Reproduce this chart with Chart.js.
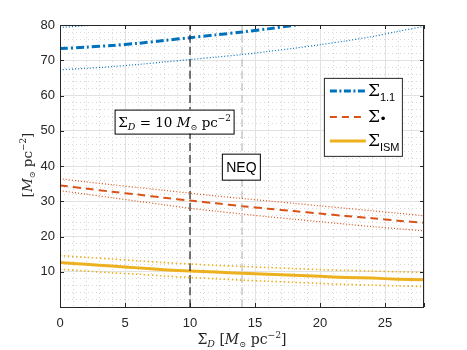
<!DOCTYPE html>
<html>
<head>
<meta charset="utf-8">
<script src="https://cdn.jsdelivr.net/npm/chart.js@4.4.0/dist/chart.umd.min.js"></script>
<style>
    body { margin: 0; background: #fff; }
    #wrap { width: 467px; height: 350px; }
</style>
</head>
<body>
<div id="wrap"><canvas id="sigmaChart" width="467" height="350"></canvas></div>
<script>
// x values (Sigma_D)
let sigmaD = [0, 2, 4, 6, 8, 10, 12, 14, 16, 18, 20, 22, 24, 26, 28];

// Sigma_1.1 and its band
let sig11 = [73.3, 73.7, 74.2, 74.8, 75.6, 76.4, 77.2, 78.0, 78.9, 79.9, 80.9, 82.0, 83.1, 84.3, 85.5];
let sig11Up = [79.3, 79.8, 80.3, 80.9, 81.5, 82.2, 82.9, 83.7, 84.5, 85.4, 86.4, 87.4, 88.5, 89.7, 91.0];
let sig11Lo = [67.3, 67.7, 68.2, 68.8, 69.5, 70.2, 70.9, 71.6, 72.5, 73.4, 74.4, 75.5, 76.7, 78.2, 79.6];

// Sigma_* and its band
let sigStar = [34.5, 33.6, 32.7, 31.9, 31.0, 30.2, 29.4, 28.6, 27.9, 27.2, 26.5, 25.8, 25.2, 24.5, 23.9];
let sigStarUp = [36.4, 35.5, 34.7, 33.9, 33.1, 32.3, 31.5, 30.8, 30.1, 29.4, 28.7, 28.0, 27.3, 26.6, 25.9];
let sigStarLo = [33.0, 32.0, 31.0, 30.0, 29.0, 28.0, 27.2, 26.4, 25.6, 24.9, 24.2, 23.5, 22.8, 22.2, 21.6];

// Sigma_ISM and its band
let sigIsm = [12.6, 12.1, 11.6, 11.1, 10.6, 10.2, 9.9, 9.6, 9.3, 9.0, 8.7, 8.4, 8.2, 7.9, 7.7];
let sigIsmUp = [14.6, 14.1, 13.6, 13.1, 12.6, 12.2, 11.8, 11.5, 11.2, 10.9, 10.6, 10.4, 10.2, 10.0, 9.8];
let sigIsmLo = [10.7, 10.2, 9.7, 9.3, 8.8, 8.4, 8.0, 7.6, 7.3, 7.0, 6.7, 6.4, 6.2, 6.0, 5.8];

// vertical markers
let markSigD = 10;
let neqSigD = 14;

// axis ranges
let xMin = 0, xMax = 28;
let yMin = 0, yMax = 80;

const BLUE = '#0072BD', RED = '#D95319', YEL = '#EDB120';
const TXT = '#262626';
const SERIF = '"DejaVu Serif", "Liberation Serif", serif';
const SANS = '"Liberation Sans", Arial, sans-serif';

function pts(ys) {
    return sigmaD.map(function (x, i) { return { x: x, y: ys[i] }; });
}

function vline(x) {
    return [{ x: x, y: yMin }, { x: x, y: yMax }];
}

function line(data, color, width, dash) {
    return {
        data: data,
        borderColor: color,
        borderWidth: width,
        borderDash: dash,
        pointRadius: 0,
        fill: false,
        tension: 0.3,
        clip: 0
    };
}

// draw a run of text pieces [text, font, dy], centred on cx
function mathText(ctx, pieces, cx, cy) {
    let w = 0;
    pieces.forEach(function (p) { ctx.font = p[1]; w += ctx.measureText(p[0]).width; });
    let x = cx - w / 2;
    ctx.textAlign = 'left';
    ctx.textBaseline = 'alphabetic';
    pieces.forEach(function (p) {
        ctx.font = p[1];
        ctx.fillText(p[0], x, cy + (p[2] || 0));
        x += ctx.measureText(p[0]).width;
    });
    return w;
}

function unitPieces(sz) {
    return [
        ['M', 'italic ' + sz + 'px ' + SERIF, 0],
        ['\u2299', (sz * 0.6) + 'px ' + SERIF, 3],
        [' pc', sz + 'px ' + SERIF, 0],
        ['\u22122', (sz * 0.66) + 'px ' + SERIF, -6]
    ];
}

const overlay = {
    id: 'overlay',
    afterDatasetsDraw(chart) {
        const ctx = chart.ctx, a = chart.chartArea;
        const xs = chart.scales.x, ys = chart.scales.y;
        ctx.save();

        // axes box
        ctx.strokeStyle = TXT;
        ctx.lineWidth = 1;
        ctx.strokeRect(a.left + 0.5, a.top + 0.5, a.right - a.left - 1, a.bottom - a.top);

        // inward ticks
        ctx.beginPath();
        xs.ticks.forEach(function (t) {
            let px = Math.round(xs.getPixelForValue(t.value)) + 0.5;
            ctx.moveTo(px, a.bottom); ctx.lineTo(px, a.bottom - 4);
            ctx.moveTo(px, a.top); ctx.lineTo(px, a.top + 4);
        });
        ys.ticks.forEach(function (t) {
            let py = Math.round(ys.getPixelForValue(t.value)) + 0.5;
            ctx.moveTo(a.left, py); ctx.lineTo(a.left + 4, py);
            ctx.moveTo(a.right, py); ctx.lineTo(a.right - 4, py);
        });
        ctx.stroke();

        // Sigma_D = 10 label box
        ctx.fillStyle = '#fff';
        ctx.strokeStyle = '#000';
        let bx = xs.getPixelForValue(4.2), by = ys.getPixelForValue(56);
        ctx.fillRect(bx, by, 119, 24);
        ctx.strokeRect(bx + 0.5, by + 0.5, 119, 24);
        ctx.fillStyle = '#000';
        mathText(ctx, [
            ['\u03A3', '13.5px ' + SERIF, 0],
            ['D', 'italic 9.5px ' + SERIF, 3],
            [' = 10 ', '13.5px ' + SERIF, 0]
        ].concat(unitPieces(13.5)), bx + 60, by + 17);

        // NEQ box
        let nx = xs.getPixelForValue(12.45), ny = ys.getPixelForValue(43.5);
        ctx.fillStyle = '#fff';
        ctx.fillRect(nx, ny, 38, 26);
        ctx.strokeRect(nx + 0.5, ny + 0.5, 38, 26);
        ctx.fillStyle = '#000';
        ctx.font = '14px ' + SANS;
        ctx.textAlign = 'center';
        ctx.textBaseline = 'middle';
        ctx.fillText('NEQ', nx + 19.5, ny + 14);

        // legend
        let lx = xs.getPixelForValue(20.3), ly = ys.getPixelForValue(65);
        ctx.fillStyle = '#fff';
        ctx.fillRect(lx, ly, 78, 78);
        ctx.strokeStyle = '#262626';
        ctx.strokeRect(lx + 0.5, ly + 0.5, 78, 78);
        let rows = [
            [BLUE, 3, [7, 2.5, 2, 2.5], '1.1', 13],
            [RED, 2, [7, 5], '\u2219', 39],
            [YEL, 3, [], 'ISM', 63]
        ];
        rows.forEach(function (r) {
            ctx.beginPath();
            ctx.strokeStyle = r[0];
            ctx.lineWidth = r[1];
            ctx.setLineDash(r[2]);
            ctx.moveTo(lx + 6, ly + r[4]);
            ctx.lineTo(lx + 42, ly + r[4]);
            ctx.stroke();
            ctx.setLineDash([]);
            ctx.fillStyle = '#000';
            ctx.textAlign = 'left';
            ctx.textBaseline = 'alphabetic';
            ctx.font = '17px ' + SERIF;
            ctx.fillText('\u03A3', lx + 44, ly + r[4] + 5);
            ctx.font = r[3] === '\u2219' ? 'bold 12px ' + SERIF : '11px ' + SANS;
            ctx.fillText(r[3], lx + 56, ly + r[4] + (r[3] === '\u2219' ? 5 : 10));
        });

        // axis titles
        ctx.fillStyle = TXT;
        mathText(ctx, [
            ['\u03A3', '14px ' + SERIF, 0],
            ['D', 'italic 9.5px ' + SERIF, 3],
            [' [', '14px ' + SERIF, 0]
        ].concat(unitPieces(14)).concat([[']', '14px ' + SERIF, 0]]), (a.left + a.right) / 2, 344);

        ctx.save();
        ctx.translate(27, 165);
        ctx.rotate(-Math.PI / 2);
        mathText(ctx, [['[', '13.5px ' + SERIF, 0]].concat(unitPieces(13.5)).concat([[']', '13.5px ' + SERIF, 0]]), 0, 5);
        ctx.restore();

        ctx.restore();
    }
};

let ctx = document.getElementById('sigmaChart');
let myChart = new Chart(ctx, {
    type: 'line',
    data: {
        datasets: [
            line(pts(sig11Up), BLUE, 1.2, [1, 2]),
            line(pts(sig11Lo), BLUE, 1.2, [1, 2]),
            line(pts(sigStarUp), RED, 1.2, [1, 2]),
            line(pts(sigStarLo), RED, 1.2, [1, 2]),
            line(pts(sigIsmUp), YEL, 1.6, [1.5, 2.5]),
            line(pts(sigIsmLo), YEL, 1.6, [1.5, 2.5]),
            line(vline(neqSigD), '#b0b0b0', 1, [8, 4]),
            line(vline(markSigD), '#222222', 1.2, [8, 4]),
            line(pts(sig11), BLUE, 3, [8, 3, 2, 3]),
            line(pts(sigStar), RED, 2, [8, 5]),
            line(pts(sigIsm), YEL, 3, [])
        ]
    },
    options: {
        responsive: false,
        animation: false,
        layout: { padding: { left: 0, right: 43, top: 25, bottom: 0 } },
        plugins: { legend: { display: false }, tooltip: { enabled: false } },
        scales: {
            xMinor: {
                type: 'linear', position: 'bottom', min: xMin, max: xMax,
                ticks: { display: false, stepSize: 1 },
                grid: { color: '#d6d6d6', drawTicks: false, lineWidth: 1 },
                border: { display: false, dash: [1, 3] },
                afterFit: function (s) { s.height = 0; }
            },
            yMinor: {
                type: 'linear', position: 'left', min: yMin, max: yMax,
                ticks: { display: false, stepSize: 2 },
                grid: { color: '#d6d6d6', drawTicks: false, lineWidth: 1 },
                border: { display: false, dash: [1, 3] },
                afterFit: function (s) { s.width = 0; }
            },
            x: {
                type: 'linear', position: 'bottom', min: xMin, max: xMax,
                ticks: {
                    stepSize: 5, color: TXT, padding: 9,
                    font: { family: SANS, size: 13 },
                    callback: function (v) { return v % 5 === 0 ? v : ''; }
                },
                grid: { color: '#e2e2e2', drawTicks: false, lineWidth: 1 },
                border: { display: false },
                afterFit: function (s) { s.height = 43; }
            },
            y: {
                type: 'linear', position: 'left', min: yMin, max: yMax,
                ticks: {
                    stepSize: 10, color: TXT, padding: 5,
                    font: { family: SANS, size: 13 },
                    callback: function (v) { return v === 0 ? '' : v; }
                },
                grid: { color: '#e2e2e2', drawTicks: false, lineWidth: 1 },
                border: { display: false },
                afterFit: function (s) { s.width = 60; }
            }
        }
    },
    plugins: [overlay]
});
</script>
</body>
</html>
